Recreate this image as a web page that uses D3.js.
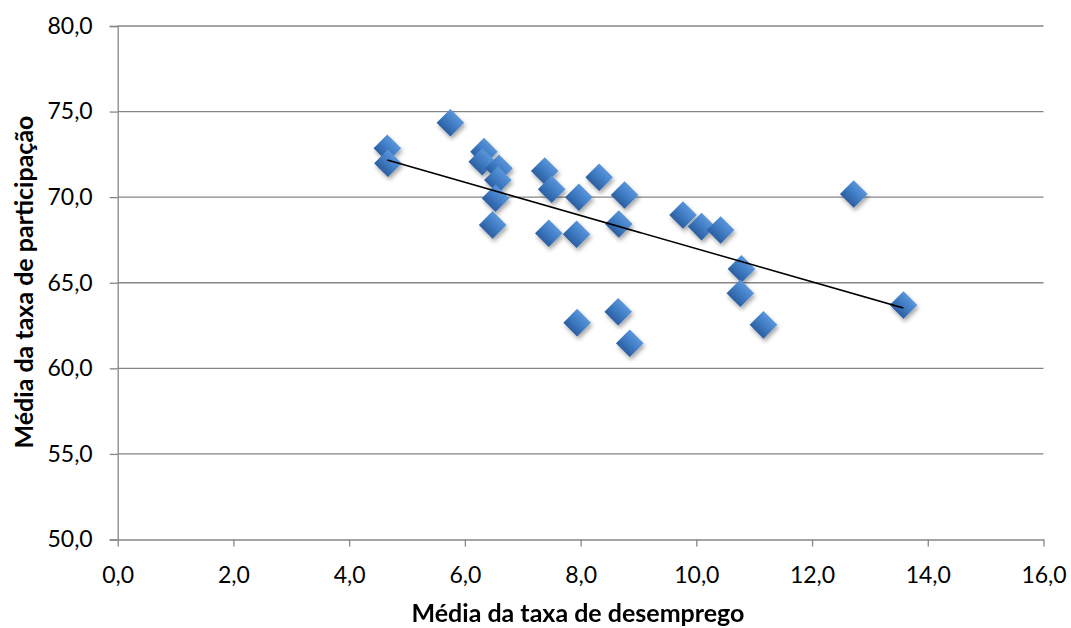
<!DOCTYPE html>
<html>
<head>
<meta charset="utf-8">
<script src="https://cdn.jsdelivr.net/npm/d3@7"></script>
<style>
  html, body { margin: 0; padding: 0; background: #fff; }
  svg { display: block; }
  text { font-family: Lato, "Open Sans", sans-serif; fill: #000; }
</style>
</head>
<body>
<svg id="chart" width="1071" height="628"></svg>
<script>
// Average unemployment rate (x) and average participation rate (y)
const desemprego = [
  4.66, 4.67, 5.75, 6.33, 6.30, 6.59, 6.57, 6.53, 6.48, 7.38,
  7.50, 7.45, 7.97, 7.93, 8.32, 8.76, 8.66, 7.94, 8.65, 8.85,
  9.77, 10.09, 10.42, 10.78, 10.76, 11.16, 12.72, 13.58
];
const participacao = [
  72.86, 71.98, 74.35, 72.66, 72.07, 71.69, 71.00, 69.94, 68.38, 71.53,
  70.46, 67.89, 69.99, 67.83, 71.16, 70.13, 68.43, 62.67, 63.31, 61.47,
  68.96, 68.28, 68.08, 65.81, 64.39, 62.54, 70.19, 63.70
];

const xTicks = [0, 2, 4, 6, 8, 10, 12, 14, 16];
const yTicks = [50, 55, 60, 65, 70, 75, 80];
const xTitle = "Média da taxa de desemprego";
const yTitle = "Média da taxa de participação";

const points = desemprego.map((v, i) => ({ x: v, y: participacao[i] }));

const svg = d3.select("#chart");
const plotLeft = 117.7, plotRight = 1043.5, plotTop = 26, plotBottom = 539.5;

const x = d3.scaleLinear().domain([0, 16]).range([plotLeft, plotRight]);
const y = d3.scaleLinear().domain([50, 80]).range([plotBottom, plotTop]);

const ptBR = d3.formatLocale({ decimal: ",", thousands: ".", grouping: [3], currency: ["R$", ""] });
const fmt = ptBR.format(".1f");

const gridColor = "#868686";

// defs: marker gradient and soft drop shadow
const defs = svg.append("defs");
const grad = defs.append("linearGradient")
  .attr("id", "mk").attr("x1", "0").attr("y1", "0").attr("x2", "0").attr("y2", "1");
grad.append("stop").attr("offset", "0%").attr("stop-color", "#5a95da");
grad.append("stop").attr("offset", "50%").attr("stop-color", "#3f7cc4");
grad.append("stop").attr("offset", "100%").attr("stop-color", "#2c5e9f");
const shadow = defs.append("filter").attr("id", "sh")
  .attr("x", "-50%").attr("y", "-50%").attr("width", "200%").attr("height", "200%");
shadow.append("feDropShadow")
  .attr("dx", 1.5).attr("dy", 3).attr("stdDeviation", 2)
  .attr("flood-color", "#000").attr("flood-opacity", 0.35);

// horizontal gridlines
svg.append("g")
  .selectAll("line")
  .data(yTicks.filter(t => t !== 50))
  .join("line")
  .attr("x1", plotLeft).attr("x2", plotRight)
  .attr("y1", d => y(d)).attr("y2", d => y(d))
  .attr("stroke", gridColor).attr("stroke-width", 1.3);

// y axis
const yAxis = svg.append("g")
  .attr("transform", `translate(${plotLeft},0)`)
  .call(d3.axisLeft(y).tickValues(yTicks).tickFormat(fmt).tickSize(8).tickPadding(17));
yAxis.select(".domain").attr("stroke", gridColor).attr("stroke-width", 1.3);
yAxis.selectAll(".tick line").attr("stroke", gridColor).attr("stroke-width", 1.3);
yAxis.selectAll(".tick text")
  .attr("font-family", "Lato, sans-serif").attr("font-size", 23).attr("fill", "#000");

// x axis
const xAxis = svg.append("g")
  .attr("transform", `translate(0,${plotBottom})`)
  .call(d3.axisBottom(x).tickValues(xTicks).tickFormat(fmt).tickSize(7).tickPadding(20).tickSizeOuter(0));
xAxis.select(".domain").attr("stroke", gridColor).attr("stroke-width", 1.3);
xAxis.selectAll(".tick line").attr("stroke", gridColor).attr("stroke-width", 1.3);
xAxis.selectAll(".tick text")
  .attr("font-family", "Lato, sans-serif").attr("font-size", 23).attr("fill", "#000");

// markers
const diamond = d3.symbol().type(d3.symbolSquare).size(380);
svg.append("g")
  .attr("filter", "url(#sh)")
  .selectAll("path")
  .data(points)
  .join("path")
  .attr("d", diamond)
  .attr("transform", d => `translate(${x(d.x)},${y(d.y)}) rotate(45)`)
  .attr("fill", "url(#mk)");

// least-squares trend line over the data range
const mx = d3.mean(points, d => d.x), my = d3.mean(points, d => d.y);
const slope = d3.sum(points, d => (d.x - mx) * (d.y - my)) / d3.sum(points, d => (d.x - mx) ** 2);
const icpt = my - slope * mx;
const [xmin, xmax] = d3.extent(points, d => d.x);
svg.append("line")
  .attr("x1", x(xmin)).attr("y1", y(icpt + slope * xmin))
  .attr("x2", x(xmax)).attr("y2", y(icpt + slope * xmax))
  .attr("stroke", "#000").attr("stroke-width", 1.6);

// axis titles
svg.append("text")
  .attr("x", 578).attr("y", 622)
  .attr("text-anchor", "middle")
  .attr("font-weight", "bold").attr("font-size", 25)
  .text(xTitle);

svg.append("text")
  .attr("transform", `translate(33,282) rotate(-90)`)
  .attr("text-anchor", "middle")
  .attr("font-weight", "bold").attr("font-size", 25)
  .text(yTitle);
</script>
</body>
</html>
